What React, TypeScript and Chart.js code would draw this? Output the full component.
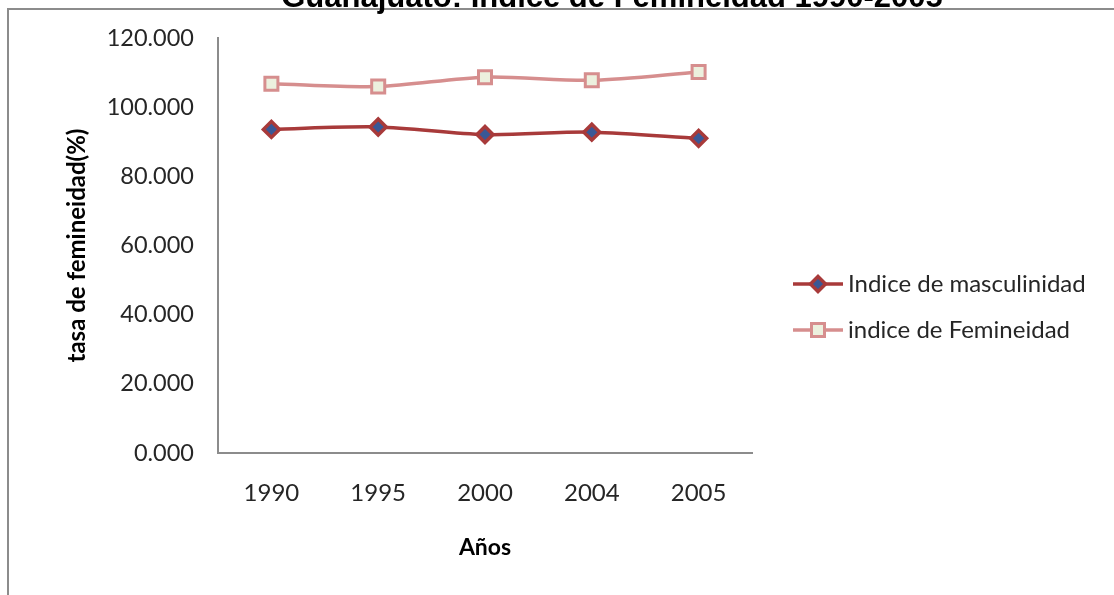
import React, { useEffect, useRef } from "react";
import { Chart, registerables } from "chart.js";

Chart.register(...registerables);

const categories = ["1990", "1995", "2000", "2004", "2005"];
const masculinidad = [93.6, 94.3, 92.1, 92.8, 91.0];
const femineidad = [106.8, 106.0, 108.7, 107.8, 110.2];
const seriesNames = ["Indice de masculinidad", "indice de Femineidad"];
const titleText = "Guanajuato: Indice de Femineidad 1990-2005";
const yTitle = "tasa de femineidad(%)";
const xTitle = "Años";

const MASC_LINE = "rgb(168,58,58)";
const MASC_FILL = "rgb(58,88,150)";
const FEM_LINE = "rgb(214,142,142)";
const FEM_FILL = "rgb(236,240,222)";

const framePlugin = {
  id: "frame",
  beforeDraw(chart: any) {
    const ctx = chart.ctx;
    ctx.save();
    ctx.fillStyle = "#ffffff";
    ctx.fillRect(0, 0, chart.width, chart.height);
    ctx.strokeStyle = "#8c8c8c";
    ctx.lineWidth = 2;
    ctx.beginPath();
    ctx.moveTo(8, chart.height + 2);
    ctx.lineTo(8, 9);
    ctx.lineTo(chart.width + 2, 9);
    ctx.stroke();
    ctx.fillStyle = "#000000";
    ctx.font = "bold 31px 'Liberation Sans', Arial, sans-serif";
    ctx.textAlign = "center";
    ctx.textBaseline = "alphabetic";
    ctx.fillText(titleText, 612, 7);
    ctx.restore();
  },
  afterDraw(chart: any) {
    const ctx = chart.ctx;
    const items = chart.data.datasets;
    ctx.save();
    items.forEach((ds: any, i: number) => {
      const y = 284 + i * 46;
      ctx.strokeStyle = ds.borderColor;
      ctx.lineWidth = 3.5;
      ctx.beginPath();
      ctx.moveTo(793, y);
      ctx.lineTo(843, y);
      ctx.stroke();
      ctx.fillStyle = ds.pointBackgroundColor;
      ctx.strokeStyle = ds.pointBorderColor;
      ctx.lineWidth = ds.pointBorderWidth;
      ctx.beginPath();
      if (ds.pointStyle === "rectRot") {
        const r = 7.5;
        ctx.moveTo(818, y - r);
        ctx.lineTo(818 + r, y);
        ctx.lineTo(818, y + r);
        ctx.lineTo(818 - r, y);
        ctx.closePath();
      } else {
        ctx.rect(818 - 6.5, y - 6.5, 13, 13);
      }
      ctx.fill();
      ctx.stroke();
      ctx.fillStyle = "#262626";
      ctx.font = "24px Lato, sans-serif";
      ctx.textAlign = "left";
      ctx.textBaseline = "middle";
      ctx.fillText(ds.label, 848, y);
    });
    ctx.restore();
  },
};

export default function App() {
  const ref = useRef<HTMLCanvasElement | null>(null);
  useEffect(() => {
    if (!ref.current) return;
    const chart = new Chart(ref.current, {
      type: "line",
      data: {
        labels: categories,
        datasets: [
          {
            label: seriesNames[0],
            data: masculinidad,
            borderColor: MASC_LINE,
            borderWidth: 3.5,
            tension: 0.3,
            pointStyle: "rectRot",
            pointRadius: 8,
            pointBackgroundColor: MASC_FILL,
            pointBorderColor: MASC_LINE,
            pointBorderWidth: 3.5,
          },
          {
            label: seriesNames[1],
            data: femineidad,
            borderColor: FEM_LINE,
            borderWidth: 3.5,
            tension: 0.3,
            pointStyle: "rect",
            pointRadius: 9.2,
            pointBackgroundColor: FEM_FILL,
            pointBorderColor: FEM_LINE,
            pointBorderWidth: 3,
          },
        ] as any,
      },
      options: {
        responsive: false,
        animation: false,
        events: [],
        layout: { padding: { left: 55, top: 38, right: 362, bottom: 0 } },
        plugins: {
          legend: { display: false },
          title: { display: false },
          tooltip: { enabled: false },
        },
        scales: {
          x: {
            offset: true,
            grid: { display: false, drawTicks: false },
            border: { display: true, color: "#8c8c8c", width: 2 },
            ticks: {
              padding: 26,
              color: "#262626",
              font: { family: "Lato", size: 24 },
            },
            title: {
              display: true,
              text: xTitle,
              color: "#000000",
              font: { family: "Lato", size: 23, weight: "bold" },
              padding: { top: 0, bottom: 34 },
            },
            afterFit(scale: any) {
              scale.height = 142;
            },
          },
          y: {
            min: 0,
            max: 120,
            ticks: {
              stepSize: 20,
              padding: 24,
              color: "#262626",
              font: { family: "Lato", size: 23.5 },
              callback: (v: any) => Number(v).toFixed(3),
            },
            grid: { display: false, drawTicks: false },
            border: { display: true, color: "#8c8c8c", width: 2 },
            title: {
              display: true,
              text: yTitle,
              color: "#000000",
              font: { family: "Lato", size: 24, weight: "bold" },
              padding: { top: 8, bottom: 0 },
            },
            afterFit(scale: any) {
              scale.width = 163;
            },
          },
        },
      },
      plugins: [framePlugin],
    });
    return () => chart.destroy();
  }, []);
  return (
    <div style={{ position: "absolute", left: 0, top: 0, width: 1114, height: 595 }}>
      <canvas ref={ref} width={1114} height={595} style={{ display: "block" }} />
    </div>
  );
}
